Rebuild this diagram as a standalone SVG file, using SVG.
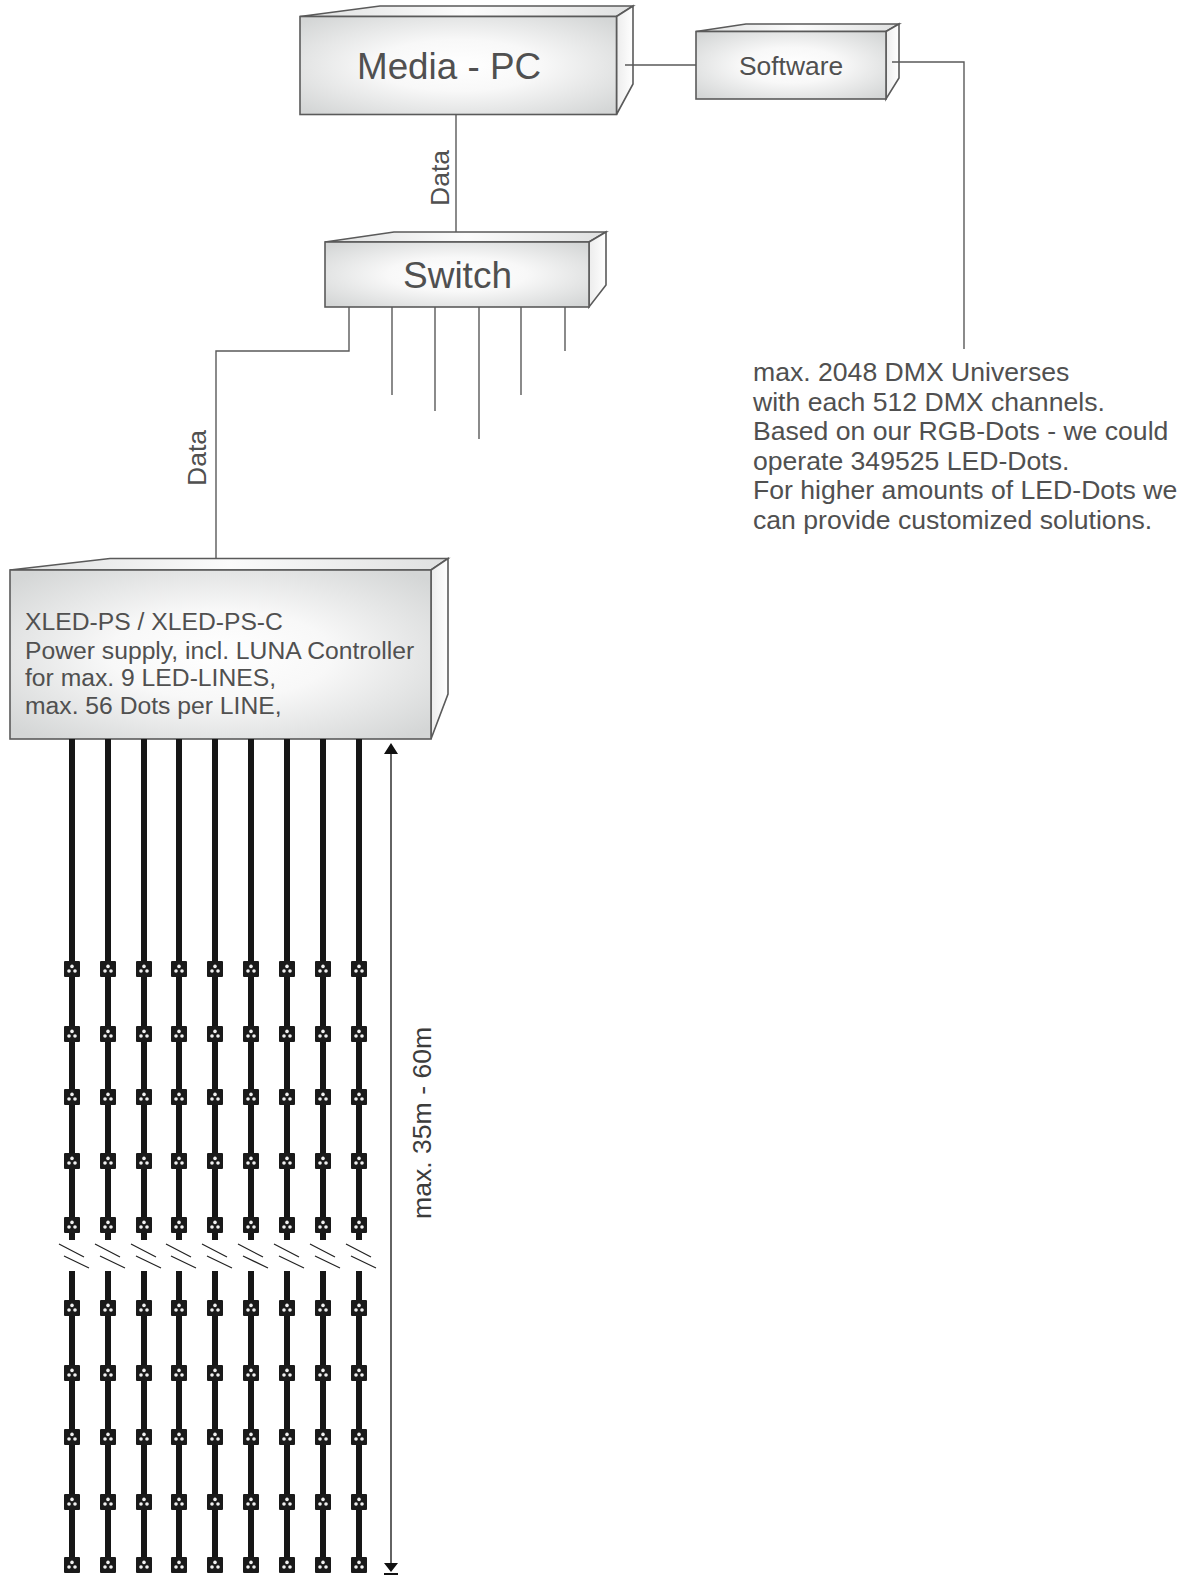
<svg xmlns="http://www.w3.org/2000/svg" xmlns:xlink="http://www.w3.org/1999/xlink" width="1191" height="1575" viewBox="0 0 1191 1575">
<style>
text{font-family:"Liberation Sans",Arial,sans-serif;fill:#505050}
.box{stroke:#5a5a5a;stroke-width:1.6;stroke-linejoin:miter}
.front{fill:url(#g)}
.top{fill:url(#t)}
.side{fill:url(#s)}
.wire{fill:none;stroke:#5a5a5a;stroke-width:1.4}
.led{fill:none;stroke:#161616;stroke-width:6}
.sl{stroke:#222;stroke-width:1.2}
</style>
<defs>
<radialGradient id="g" cx="50%" cy="50%" r="66%"><stop offset="0" stop-color="#ffffff"/><stop offset=".4" stop-color="#f8f8f8"/><stop offset="1" stop-color="#d4d6d6"/></radialGradient>
<linearGradient id="t" x1="0" x2="1" y1="0" y2="0"><stop offset="0" stop-color="#dfe0e0"/><stop offset=".5" stop-color="#fbfbfb"/><stop offset="1" stop-color="#dfe0e0"/></linearGradient>
<linearGradient id="s" x1="0" x2="1" y1="0" y2="0"><stop offset="0" stop-color="#ececec"/><stop offset="1" stop-color="#ffffff"/></linearGradient>
<g id="d"><rect x="-8" y="-8" width="16" height="16" rx="1" fill="#1a1a1a"/><circle cx="0" cy="-2.600" r="1.800" fill="#f2f2f2"/><circle cx="-3" cy="2" r="1.800" fill="#f2f2f2"/><circle cx="3" cy="2" r="1.800" fill="#f2f2f2"/></g>
<g id="col">
<path class="led" d="M0 739V1240M0 1271V1572"/>
<use xlink:href="#d" href="#d" y="969"/><use xlink:href="#d" href="#d" y="1034"/><use xlink:href="#d" href="#d" y="1097"/><use xlink:href="#d" href="#d" y="1161"/><use xlink:href="#d" href="#d" y="1225"/>
<use xlink:href="#d" href="#d" y="1308"/><use xlink:href="#d" href="#d" y="1373"/><use xlink:href="#d" href="#d" y="1437"/><use xlink:href="#d" href="#d" y="1502"/><use xlink:href="#d" href="#d" y="1565"/>
<path class="sl" d="M-13 1244L12 1257M-8 1256L17 1268"/>
</g>
</defs>

<g id="media-pc">
<path class="box top" d="M300 16.500L380 6H633L616.500 16.500Z"/>
<path class="box side" d="M616.500 16.500L633 6V84L616.500 114.500Z"/>
<rect class="box front" x="300" y="16.500" width="316.500" height="98"/>
<text x="357" y="79" font-size="36.800">Media - PC</text>
</g>
<g id="software">
<path class="box top" d="M696 31.500L746 24H899L886 31.500Z"/>
<path class="box side" d="M886 31.500L899 24V78L886 99Z"/>
<rect class="box front" x="696" y="31.500" width="190" height="67.500"/>
<text x="739" y="75" font-size="26.400">Software</text>
</g>
<g id="switch">
<path class="box top" d="M325 242L394 232H606L589 242Z"/>
<path class="box side" d="M589 242L606 232V285L589 307Z"/>
<rect class="box front" x="325" y="242" width="264" height="65"/>
<text x="403" y="288" font-size="37">Switch</text>
</g>
<g id="power-supply">
<path class="box top" d="M10 570L110 558.500H448L431 570Z"/>
<path class="box side" d="M431 570L448 558.500V694L431 739Z"/>
<rect class="box front" x="10" y="570" width="421" height="169"/>
<text font-size="24.700"><tspan x="25" y="630">XLED-PS / XLED-PS-C</tspan><tspan x="25" y="659">Power supply, incl. LUNA Controller</tspan><tspan x="25" y="686">for max. 9 LED-LINES,</tspan><tspan x="25" y="714">max. 56 Dots per LINE,</tspan></text>
</g>
<g id="connectors">
<path class="wire" d="M625 65H696M892 62H964V349M456 115V232M349 307V351H216V558M392 307V395M435 307V411M479 307V439M521 307V395M565 307V351"/>
<path fill="none" stroke="#222" stroke-width="1.400" d="M391 750V1565"/>
<path fill="#111" d="M391 743L398 754H384ZM384 1563H398L391 1572ZM384 1573H398V1575H384Z"/>
<text font-size="26.500" transform="translate(449 206) rotate(-90)">Data</text>
<text font-size="26.500" transform="translate(206 486) rotate(-90)">Data</text>
<text font-size="26.600" style="fill:#3c3c3c" transform="translate(431 1219) rotate(-90)">max. 35m - 60m</text>
</g>
<g id="note">
<text font-size="26.600"><tspan x="753" y="381">max. 2048 DMX Universes</tspan><tspan x="753" y="411">with each 512 DMX channels.</tspan><tspan x="753" y="440">Based on our RGB-Dots - we could</tspan><tspan x="753" y="470">operate 349525 LED-Dots.</tspan><tspan x="753" y="499">For higher amounts of LED-Dots we</tspan><tspan x="753" y="529">can provide customized solutions.</tspan></text>
</g>
<g id="led-lines">
<use xlink:href="#col" href="#col" x="72"/><use xlink:href="#col" href="#col" x="108"/><use xlink:href="#col" href="#col" x="144"/><use xlink:href="#col" href="#col" x="179"/><use xlink:href="#col" href="#col" x="215"/><use xlink:href="#col" href="#col" x="251"/><use xlink:href="#col" href="#col" x="287"/><use xlink:href="#col" href="#col" x="323"/><use xlink:href="#col" href="#col" x="359"/>
</g>
</svg>
